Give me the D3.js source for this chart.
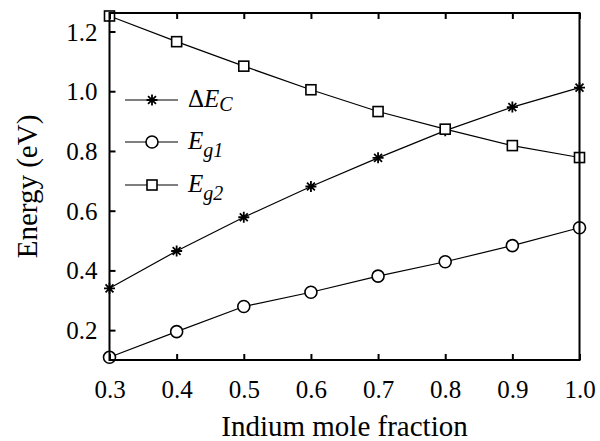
<!DOCTYPE html>
<html>
<head>
<meta charset="utf-8">
<script src="https://cdn.jsdelivr.net/npm/d3@7"></script>
<style>
  html, body { margin: 0; padding: 0; background: #fff; }
  svg { display: block; }
  text { font-family: "Liberation Serif", "Times New Roman", serif; fill: #000; }
</style>
</head>
<body>
<svg id="chart" width="600" height="441"></svg>
<script>
// Indium mole fraction (x) and band energies in eV
const indium = [0.3, 0.4, 0.5, 0.6, 0.7, 0.8, 0.9, 1.0];
const deltaEc = [0.340, 0.465, 0.578, 0.681, 0.777, 0.868, 0.947, 1.012];
const eg1 = [0.109, 0.195, 0.279, 0.327, 0.381, 0.429, 0.483, 0.543];
const eg2 = [1.252, 1.166, 1.084, 1.005, 0.932, 0.873, 0.818, 0.778];

const xTicks = [0.3, 0.4, 0.5, 0.6, 0.7, 0.8, 0.9, 1.0];
const yTicks = [0.2, 0.4, 0.6, 0.8, 1.0, 1.2];
const xDomain = [0.3, 1.0];
const yDomain = [0.1, 1.262];

const series = [
  { name: "dEc", values: deltaEc, marker: "star" },
  { name: "Eg1", values: eg1, marker: "circle" },
  { name: "Eg2", values: eg2, marker: "square" }
];

const svg = d3.select("#chart");
const box = { left: 109.5, right: 579.5, top: 13, bottom: 360 };

const x = d3.scaleLinear().domain(xDomain).range([box.left, box.right]);
const y = d3.scaleLinear().domain(yDomain).range([box.bottom, box.top]);

// marker drawing helpers
function drawMarker(g, type, cx, cy) {
  if (type === "circle") {
    g.append("circle").attr("cx", cx).attr("cy", cy).attr("r", 6)
      .attr("fill", "#fff").attr("stroke", "#000").attr("stroke-width", 1.6);
  } else if (type === "square") {
    g.append("rect").attr("x", cx - 5).attr("y", cy - 5)
      .attr("width", 10).attr("height", 10)
      .attr("fill", "#fff").attr("stroke", "#000").attr("stroke-width", 1.6);
  } else {
    const r = 5.5, d = r * 0.72;
    const p = `M${cx - r},${cy}L${cx + r},${cy}M${cx},${cy - r}L${cx},${cy + r}` +
              `M${cx - d},${cy - d}L${cx + d},${cy + d}M${cx - d},${cy + d}L${cx + d},${cy - d}`;
    g.append("path").attr("d", p).attr("stroke", "#000").attr("stroke-width", 1.8).attr("fill", "none");
  }
}

// data lines
const line = d3.line().x((d, i) => x(indium[i])).y(d => y(d));
const plot = svg.append("g");
series.forEach(s => {
  plot.append("path").datum(s.values).attr("d", line)
    .attr("fill", "none").attr("stroke", "#000").attr("stroke-width", 1.2);
});
series.forEach(s => {
  const g = plot.append("g");
  s.values.forEach((v, i) => drawMarker(g, s.marker, x(indium[i]), y(v)));
});

// axes: bottom and left with labels, top with inward ticks, plain right edge
const tickLen = 6;
const axisB = d3.axisBottom(x).tickValues(xTicks).tickFormat(d3.format(".1f"))
  .tickSizeInner(-tickLen).tickSizeOuter(0).tickPadding(20);
const axisL = d3.axisLeft(y).tickValues(yTicks).tickFormat(d3.format(".1f"))
  .tickSizeInner(-tickLen).tickSizeOuter(0).tickPadding(12);
const axisT = d3.axisTop(x).tickValues(xTicks).tickFormat("")
  .tickSizeInner(-tickLen).tickSizeOuter(0);

function styleAxis(g) {
  g.attr("font-family", null);
  g.selectAll("path.domain").remove();
  g.selectAll(".tick line").attr("stroke", "#000").attr("stroke-width", 2);
  g.selectAll(".tick text").attr("font-size", 25);
}
svg.append("g").attr("transform", `translate(0,${box.bottom})`).call(axisB).call(styleAxis)
  .selectAll(".tick text").attr("dy", "0.71em");
svg.append("g").attr("transform", `translate(${box.left},0)`).call(axisL).call(styleAxis)
  .selectAll(".tick text").attr("dy", "0.34em");
svg.append("g").attr("transform", `translate(0,${box.top})`).call(axisT).call(styleAxis);
// frame around the plot area
svg.append("rect").attr("x", box.left).attr("y", box.top)
  .attr("width", box.right - box.left).attr("height", box.bottom - box.top)
  .attr("fill", "none").attr("stroke", "#000").attr("stroke-width", 2);

// axis titles
svg.append("text").attr("x", (box.left + box.right) / 2).attr("y", 436)
  .attr("text-anchor", "middle").attr("font-size", 29).text("Indium mole fraction");
svg.append("text").attr("transform", `translate(37,${(box.top + box.bottom) / 2}) rotate(-90)`)
  .attr("text-anchor", "middle").attr("font-size", 29).text("Energy (eV)");

// legend
const legendRows = [
  { marker: "star", main: "ΔE", sub: "C", subDy: 4, y: 100 },
  { marker: "circle", main: "E", sub: "g1", subDy: 8, y: 142 },
  { marker: "square", main: "E", sub: "g2", subDy: 8, y: 185 }
];
const lg = svg.append("g");
legendRows.forEach(r => {
  lg.append("line").attr("x1", 125).attr("x2", 178).attr("y1", r.y).attr("y2", r.y)
    .attr("stroke", "#000").attr("stroke-width", 1.2);
  drawMarker(lg, r.marker, 152, r.y);
  const t = lg.append("text").attr("x", 188).attr("y", r.y + 7)
    .attr("font-size", 25).attr("font-style", "italic");
  if (r.main.startsWith("Δ")) {
    t.append("tspan").attr("font-style", "normal").text("Δ");
    t.append("tspan").text("E");
  } else {
    t.append("tspan").text(r.main);
  }
  t.append("tspan").attr("font-size", 20).attr("dy", r.subDy).text(r.sub);
});
</script>
</body>
</html>
